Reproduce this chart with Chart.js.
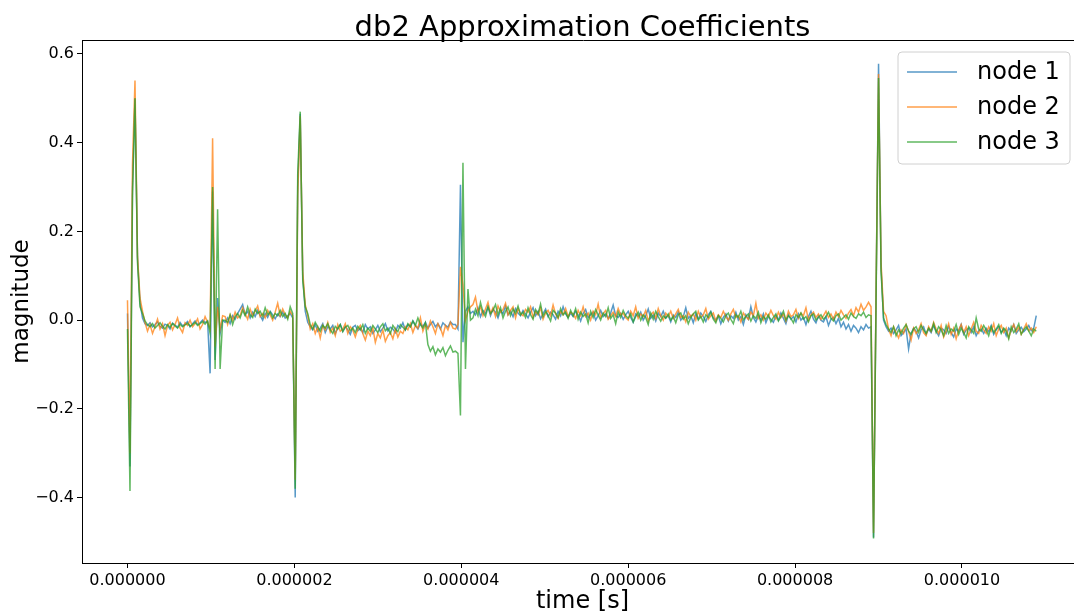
<!DOCTYPE html>
<html>
<head>
<meta charset="utf-8">
<script src="https://cdn.jsdelivr.net/npm/chart.js@4.4.1/dist/chart.umd.min.js"></script>
<style>
  html, body { margin: 0; padding: 0; overflow: hidden; background: #fff; width: 1074px; height: 616px; }
  #wrap { width: 1074px; height: 616px; overflow: hidden; position: relative; }
  #chart { position: absolute; left: 0; top: 0; }
</style>
</head>
<body>
<div id="wrap"><canvas id="chart" width="1084" height="616"></canvas></div>
<script>
// ── DATA ──────────────────────────────────────────────────────────────────────
const TITLE        = 'db2 Approximation Coefficients';
const X_LABEL      = 'time [s]';
const Y_LABEL      = 'magnitude';
const SERIES_NAMES = ['node 1', 'node 2', 'node 3'];
const SAMPLE_STEP  = 0.03e-6;                       // seconds between coefficients
const X_TICKS      = [0, 2e-6, 4e-6, 6e-6, 8e-6, 10e-6];
const Y_TICKS      = [-0.4, -0.2, 0, 0.2, 0.4, 0.6];

// coefficient values, in thousandths
const node1 = [
  15, -330, 300, 500, 140, 40,
  5, -8, -12, -6, -15, -10, -4, -14, -18, -9, -12, -20, -7, -11, -16, -5, -13, -9, -3, -15, -8, -2, -10, -6, 0, -5, -3,
  -120, 290, -90, 50, -30, 0,
  -5, 5, -8, 10, 2, 15, 25, 35, 12, 20, 5, 18, 8, 22, 10, 0, 15, 6, 20, 12, 3, 14, 8, 18, 5, 10, 15,
  5, -400, 300, 465, 100, 20,
  -5, -15, -22, -10, -25, -18, -8, -28, -15, -20, -12, -30, -18, -10, -25, -14, -22, -32, -16, -12,
  -24, -18, -28, -10, -20, -15, -30, -22, -12, -26, -18, -8, -24, -16, -20, -28, -12, -18, -6, -22,
  -10, -15, -2, -12, -20, -8, -14, -5, -18, -10, -3, -15, -8, -20, -6, -12, -16, -4, -10,
  -10, -20, 305, -50, 20, 30, 15,
  20, 12, 28, 8, 22, 15, 30, 10, 25, 18, 5, 22, 14, 32, 12, 20, 8, 26, 16, 10,
  22, 14, 5, 18, 28, 10, 20, 3, 15, 25, 8, 18, 12, 2, 20, 10, 30, 14, 6, 16,
  8, 20, 12, -2, 15, 24, 6, 12, 18, 0, 10, 22, 8, 14, 4, 16, 34, 10, 6, 15,
  2, 12, 20, 6, -5, 14, 8, 18, 0, 10, 25, 4, 12, -2, 16, 8, 20, 5, 10, -4,
  12, 6, 18, 0, 8, 28, 4, 10, -6, 14, 2, 16, 8, -3, 12, 20, 5, 0, 10, -8,
  6, 14, -2, 10, 4, 18, 0, 8, -10, 12, 2, 30, 6, -4, 10, 0, 14, -6, 8, 2,
  -5, 10, 0, 16, 4, -8, 12, 2, 8, -4, 14, 0, 6, -10, 8, 20, 2, -6, 10, 0,
  -4, 8, -12, 2, 6, -8, 4, -15, -5, -20, -10, -25, -12, -18, -28, -15, -22, -10, -18,
  -15, -490, 50, 578, 120, 0,
  -15, -25, -18, -30, -22, -12, -35, -28, -20, -65, -30, -18, -25, -40, -22, -15, -32, -20, -28, -12,
  -25, -35, -18, -22, -30, -14, -28, -38, -20, -25, -10, -32, -22, -18, -28, -15, -35, -24, -20, -30,
  -18, -26, -12, -32, -22, -15, -28, -20, -35, -18, -25, -10, -30, -22, -16, -26, -20, -12, -24, -18, 10
];

const node2 = [
  45, -300, 350, 540, 145, 50,
  20, -5, -25, -10, -30, -15, 2, -20, -8, -35, -12, -5, -22, -10, 5, -18, -28, -6, -12, 0, -15, -8, 3, -20, -10, 8, -5,
  -20, 410, -60, 30, -20, 10,
  8, -10, 12, 0, 18, 5, 10, 28, 15, 2, 25, 10, 20, 32, 8, 15, 5, 22, 12, 0, 18, 38, 10, 25, 12, 5, 20,
  10, -360, 280, 460, 110, 35,
  10, -20, -8, -30, -15, -40, -12, -22, -5, -28, -18, -35, -10, -25, -20, -8, -30, -15, -22, -38,
  -20, -12, -30, -45, -25, -35, -18, -50, -30, -40, -22, -48, -35, -28, -42, -20, -38, -25, -30, -15,
  -22, -8, -28, -12, -18, 5, -25, -10, -20, -2, -15, -30, -8, -18, -35, -12, -22, -5, -18,
  -20, -10, 120, 80, 0, 20, 30,
  35, 52, 20, 30, 10, 25, 40, 15, 28, 8, 32, 18, 24, 38, 12, 22, 30, 5, 26, 15,
  10, 24, 18, 30, 6, 20, 12, 28, 2, 16, 22, 10, 34, 14, 4, 20, 12, 26, 8, 18,
  14, 4, 22, 10, 30, 8, 16, 0, 20, 12, 36, 6, 14, 22, 2, 10, 18, 8, 26, 12,
  16, 6, 0, 20, 10, 30, 4, 14, 8, 22, -2, 12, 18, 4, 26, 10, 0, 16, 8, 20,
  4, 14, 24, 6, 10, -4, 18, 8, 14, 0, 20, 6, 12, 26, 2, 10, 16, -2, 12, 6,
  20, 8, 0, 14, 24, 6, 10, -4, 16, 8, 2, 18, 10, 38, 4, 12, 0, 16, 8, 22,
  10, 2, 18, 6, 14, -2, 20, 8, 12, 24, 4, 16, 10, 28, 0, 12, 18, 6, 14, 2,
  10, 20, 6, 14, 2, 18, 8, 22, 12, 4, 16, 24, 10, 28, 18, 36, 22, 30, 40,
  30, -480, 60, 555, 130, 20,
  10, -20, -35, -15, -28, -40, -22, -30, -10, -25, -45, -18, -30, -22, -8, -28, -35, -15, -25, -5,
  -20, -30, -12, -38, -25, -8, -32, -18, -42, -22, -10, -28, -15, -35, -20, -5, -25, -30, -12, -22,
  -30, -15, -25, -8, -35, -20, -12, -28, -18, -40, -22, -10, -26, -15, -32, -20, -8, -24, -18, -28, -15
];

const node3 = [
  -20, -385, 280, 500, 130, 30,
  15, -2, -10, -15, -8, -18, -12, -6, -14, -20, -10, -16, -8, -13, -18, -9, -15, -11, -7, -14, -10, -5, -12, -8, -3, -9, -2,
  -30, 300, -110, 250, -110, 0,
  0, -5, 12, -10, 8, 15, 5, 22, 10, 30, 12, 6, 25, 15, 20, 8, 28, 12, 18, 5, 15, 10, 22, 8, 15, 2, 30,
  15, -380, 330, 470, 90, 30,
  15, -10, -20, -5, -15, -25, -12, -18, -8, -22, -30, -14, -20, -10, -26, -16, -12, -24, -18, -28,
  -14, -22, -10, -30, -18, -25, -12, -20, -28, -15, -8, -24, -18, -30, -12, -20, -26, -10, -16, -22,
  -8, -15, -2, -12, 5, -10, -18, -6, -55, -70, -60, -78, -65, -72, -62, -80, -68, -58, -72,
  -70, -75, -215, 355, -110, 70, 0,
  5, 25, 10, 40, 18, 8, 30, 15, 22, 35, 12, 28, 5, 20, 30, 10, 25, 15, 32, 12,
  18, 6, 28, 12, 2, 24, 14, 36, 8, 20, 10, -2, 22, 16, 6, 26, 12, 18, 4, 22,
  10, 26, 2, 18, 8, 14, -6, 20, 6, 24, 12, 0, 16, 8, 28, 4, 12, -8, 18, 6,
  22, 10, 4, 14, -4, 8, 18, 0, 12, 6, -10, 16, 2, 20, 8, -2, 10, 4, 14, 0,
  8, -6, 12, 16, 2, 10, -8, 6, 14, 20, 0, 8, -4, 12, 6, 18, 2, -6, 10, 4,
  -4, 10, 16, 2, -8, 12, 6, 20, 0, 8, 14, -2, 10, 4, 18, -6, 8, 2, 12, -4,
  6, 14, -2, 8, 20, 0, 10, 4, -6, 12, 6, 16, 2, 8, -4, 10, 14, 0, 6, 12,
  2, 8, 18, 4, -2, 10, 14, 0, 6, 12, 2, 16, 8, 4, 14, 10, 18, 6, 12,
  10, -492, 40, 546, 110, 5,
  -10, -20, -28, -15, -35, -22, -30, -18, -10, -25, -32, -20, -15, -28, -12, -22, -30, -18, -25, -8,
  -28, -15, -22, -35, -12, -30, -20, -25, -10, -32, -18, -28, -40, -15, -22, -30, 5, -20, -25, -12,
  -22, -35, -15, -28, -20, -10, -30, -18, -25, -42, -15, -28, -20, -8, -32, -22, -15, -25, -35, -20, -25
];

// ── STYLE ─────────────────────────────────────────────────────────────────────
const FONT    = '"DejaVu Sans", "Liberation Sans", sans-serif';
const COLORS  = ['rgba(31,119,180,0.75)', 'rgba(255,127,14,0.75)', 'rgba(44,160,44,0.75)'];

const toPoints = arr => arr.map((v, i) => ({ x: i * SAMPLE_STEP, y: v / 1000 }));
const minus = s => s.replace('-', '\u2212');

// spines on top/right, title, axis labels, legend box
const decorations = {
  id: 'decorations',
  afterDraw(chart) {
    const { ctx, chartArea: a } = chart;
    ctx.save();
    ctx.strokeStyle = '#000';
    ctx.lineWidth = 1;
    ctx.beginPath();
    ctx.moveTo(a.left, a.top + 0.5);
    ctx.lineTo(a.right + 2, a.top + 0.5);
    ctx.stroke();

    ctx.fillStyle = '#000';
    ctx.textAlign = 'center';
    ctx.textBaseline = 'alphabetic';
    ctx.font = '29px ' + FONT;
    ctx.fillText(TITLE, (a.left + a.right) / 2, 36);

    ctx.font = '24px ' + FONT;
    ctx.fillText(X_LABEL, (a.left + a.right) / 2, 608);

    ctx.save();
    ctx.translate(28, (a.top + a.bottom) / 2);
    ctx.rotate(-Math.PI / 2);
    ctx.font = '23px ' + FONT;
    ctx.fillText(Y_LABEL, 0, 0);
    ctx.restore();

    // legend
    const bx = 898, by = 52, bw = 172, bh = 112, r = 4;
    ctx.beginPath();
    ctx.moveTo(bx + r, by);
    ctx.arcTo(bx + bw, by, bx + bw, by + bh, r);
    ctx.arcTo(bx + bw, by + bh, bx, by + bh, r);
    ctx.arcTo(bx, by + bh, bx, by, r);
    ctx.arcTo(bx, by, bx + bw, by, r);
    ctx.closePath();
    ctx.fillStyle = 'rgba(255,255,255,0.8)';
    ctx.fill();
    ctx.strokeStyle = '#d0d0d0';
    ctx.stroke();

    ctx.textAlign = 'left';
    ctx.textBaseline = 'middle';
    ctx.font = '24px ' + FONT;
    chart.data.datasets.forEach((ds, i) => {
      const y = 72 + i * 35;
      ctx.strokeStyle = ds.borderColor;
      ctx.lineWidth = 1.5;
      ctx.beginPath();
      ctx.moveTo(907, y);
      ctx.lineTo(957, y);
      ctx.stroke();
      ctx.fillStyle = '#000';
      ctx.fillText(ds.label, 977, y + 1);
    });
    ctx.restore();
  }
};

new Chart(document.getElementById('chart'), {
  type: 'line',
  data: {
    datasets: [node1, node2, node3].map((arr, i) => ({
      label: SERIES_NAMES[i],
      data: toPoints(arr),
      borderColor: COLORS[i],
      backgroundColor: COLORS[i],
      borderWidth: 1.5,
      pointRadius: 0,
      tension: 0,
      fill: false,
      order: 3 - i
    }))
  },
  options: {
    responsive: false,
    animation: false,
    devicePixelRatio: 1,
    layout: { padding: { top: 40, left: 0, right: 1, bottom: 0 } },
    plugins: { legend: { display: false }, title: { display: false }, tooltip: { enabled: false } },
    scales: {
      x: {
        type: 'linear',
        min: -0.545e-6,
        max: 11.45e-6,
        afterBuildTicks: s => { s.ticks = X_TICKS.map(v => ({ value: v })); },
        afterFit: s => { s.height = 53; },
        ticks: {
          callback: v => v.toFixed(6),
          font: { family: FONT, size: 16 },
          color: '#000',
          maxRotation: 0,
          autoSkip: false,
          padding: 3
        },
        grid: { drawOnChartArea: false, drawTicks: true, tickLength: 5, color: '#000' },
        border: { display: true, color: '#000', width: 1 }
      },
      y: {
        type: 'linear',
        min: -0.5475,
        max: 0.6315,
        afterBuildTicks: s => { s.ticks = Y_TICKS.map(v => ({ value: v })); },
        afterFit: s => { s.width = 82; },
        ticks: {
          callback: v => minus(v.toFixed(1)),
          font: { family: FONT, size: 16 },
          color: '#000',
          padding: 3
        },
        grid: { drawOnChartArea: false, drawTicks: true, tickLength: 5, color: '#000' },
        border: { display: true, color: '#000', width: 1 }
      }
    }
  },
  plugins: [decorations]
});
</script>
</body>
</html>
